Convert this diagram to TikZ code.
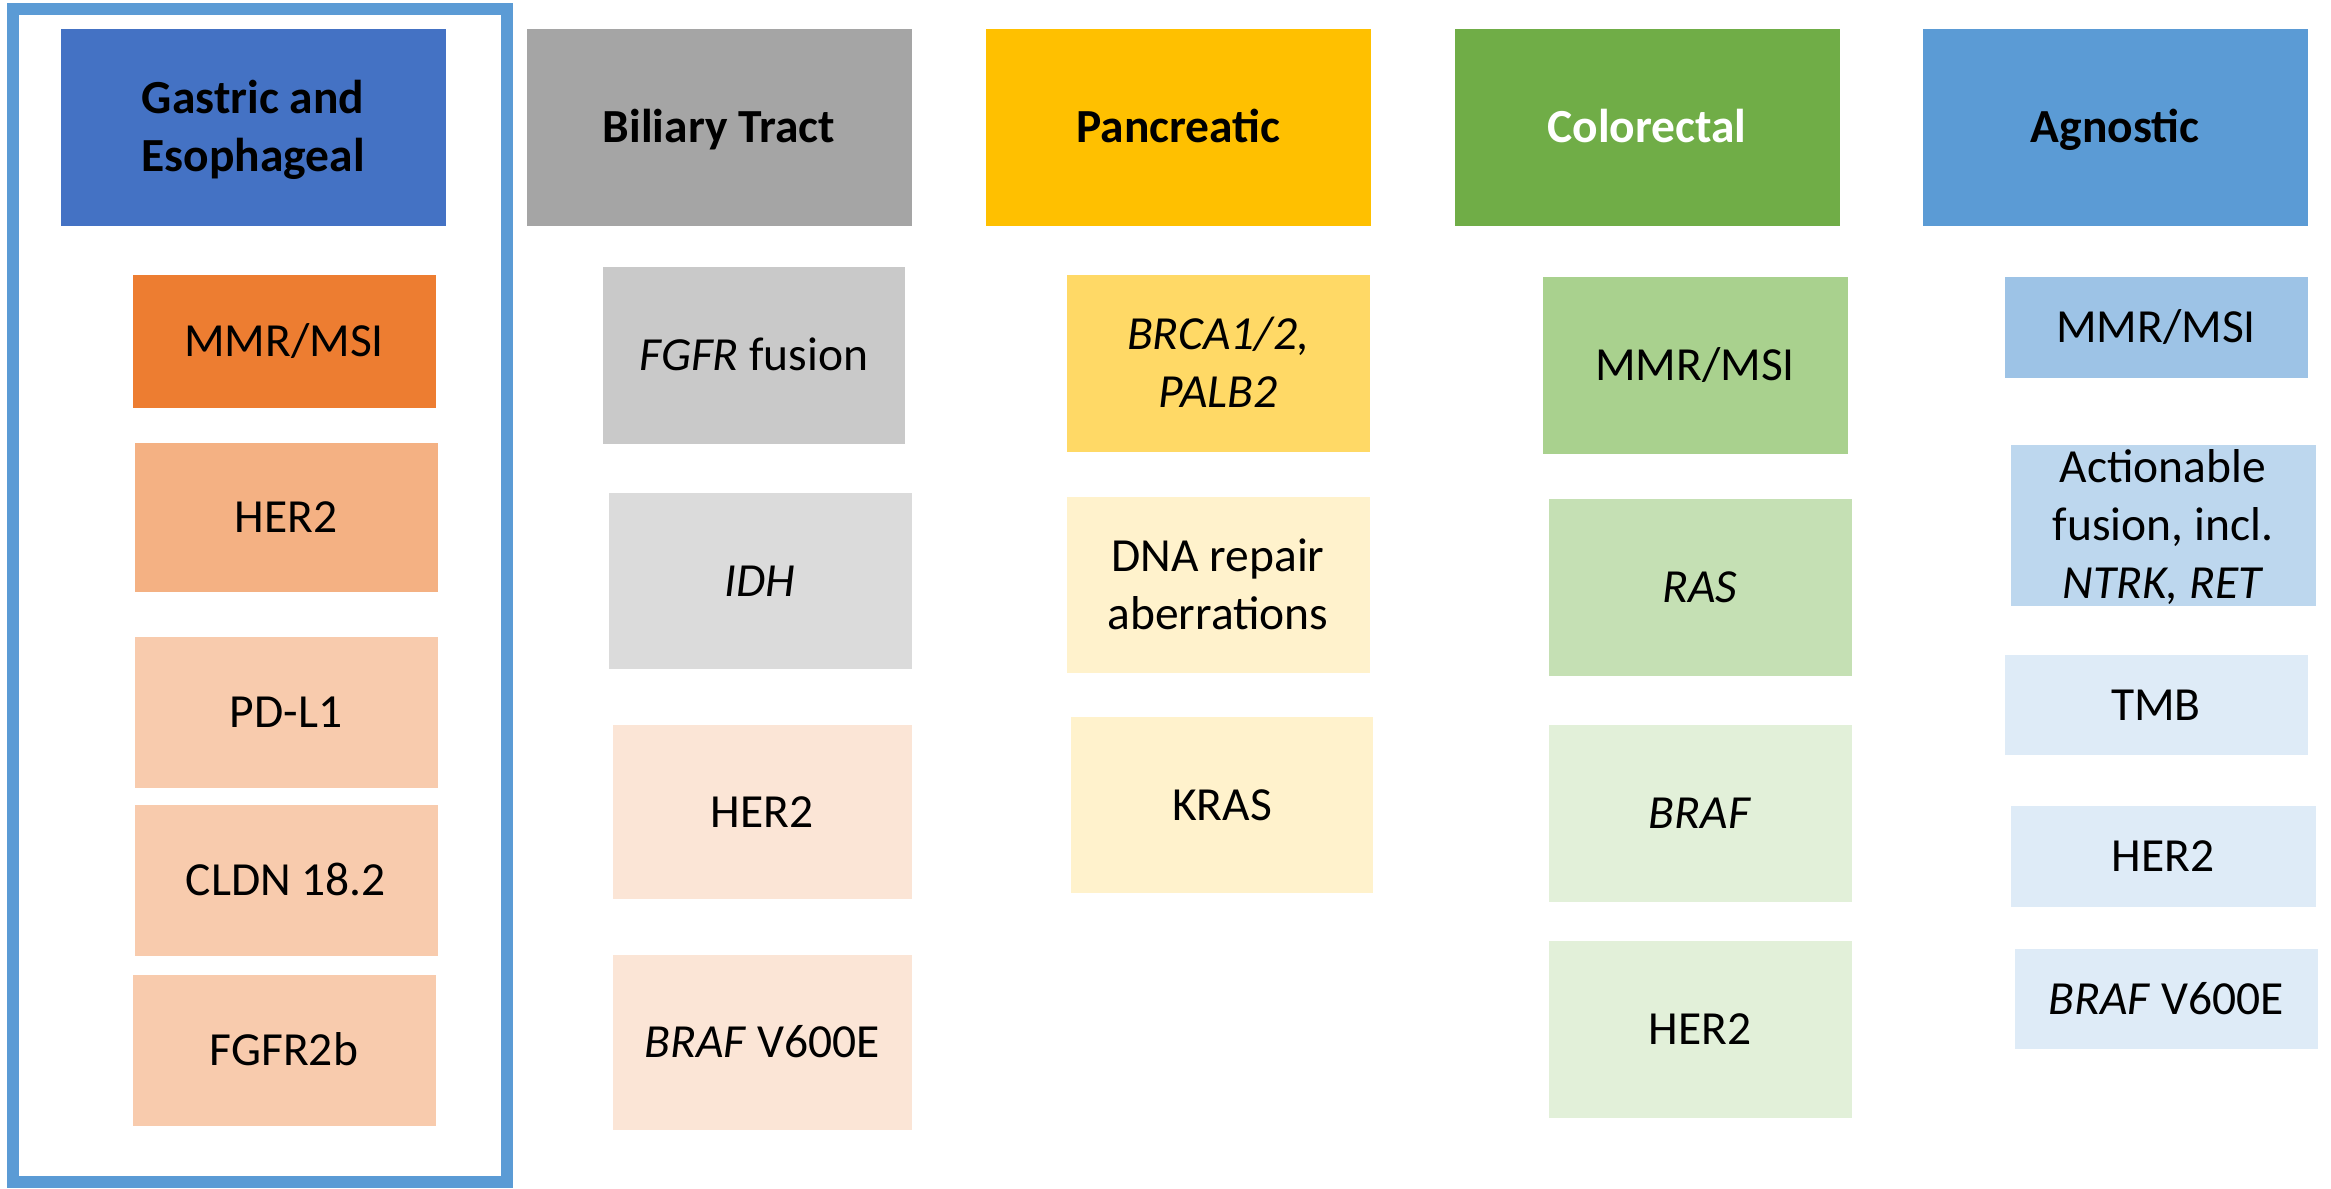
\documentclass[tikz,border=0pt]{standalone}
\usepackage{fontspec}
\setmainfont{Carlito}
\definecolor{frameblue}{HTML}{5B9BD5}
\definecolor{hGas}{HTML}{4472C4}
\definecolor{hBil}{HTML}{A5A5A5}
\definecolor{hPan}{HTML}{FFC000}
\definecolor{hCol}{HTML}{70AD47}
\definecolor{hAgn}{HTML}{5B9BD5}
\definecolor{or1}{HTML}{ED7D31}
\definecolor{or2}{HTML}{F4B183}
\definecolor{or3}{HTML}{F8CBAD}
\definecolor{or4}{HTML}{FBE5D6}
\definecolor{gr1}{HTML}{C9C9C9}
\definecolor{gr2}{HTML}{DBDBDB}
\definecolor{ye1}{HTML}{FFD966}
\definecolor{ye2}{HTML}{FFF2CC}
\definecolor{gn1}{HTML}{A9D18E}
\definecolor{gn2}{HTML}{C5E0B4}
\definecolor{gn3}{HTML}{E2F0D9}
\definecolor{bl1}{HTML}{9DC3E6}
\definecolor{bl2}{HTML}{BDD7EE}
\definecolor{bl3}{HTML}{DEEBF7}
\begin{document}
\begin{tikzpicture}[x=0.5pt,y=-0.5pt,
  cell/.style n args={3}{fill=#1, inner sep=0pt,
    minimum width=#2*0.5pt, minimum height=#3*0.5pt, text width=#2*0.5pt,
    align=flush center, font=\fontsize{23.75}{29}\selectfont,
    text height=15pt, text depth=0pt},
  hdr/.style={font=\fontsize{23.75}{29}\selectfont\bfseries},
  twolines/.style={text depth=29pt},
  threelines/.style={text depth=58pt}]
\useasboundingbox (0,0) rectangle (2331,1189);
\fill[white] (0,0) rectangle (2331,1189);
% frame around gastric column
\draw[frameblue, line width=6pt] (13,9) rectangle (507,1182);

% Gastric and Esophageal
\node[cell={hGas}{385}{197}, hdr, twolines] (hg) at (253,127) {Gastric and\\Esophageal};
\node[cell={or1}{303}{133}] (g1) at (284,341) {MMR/MSI};
\node[cell={or2}{303}{149}] (g2) at (286,517) {HER2};
\node[cell={or3}{303}{151}] (g3) at (286,712) {PD-L1};
\node[cell={or3}{303}{151}] (g4) at (286,880.5) {CLDN 18.2};
\node[cell={or3}{303}{151}] (g5) at (284,1050.5) {FGFR2b};

% Biliary Tract
\node[cell={hBil}{385}{197}, hdr] (hb) at (719,127) {Biliary Tract};
\node[cell={gr1}{302.5}{177}] (b1) at (754,355) {\textit{FGFR} fusion};
\node[cell={gr2}{303}{176.5}] (b2) at (760,581) {\textit{IDH}};
\node[cell={or4}{299}{174.5}] (b3) at (762,812) {HER2};
\node[cell={or4}{299}{175}] (b4) at (762,1042) {\textit{BRAF} V600E};

% Pancreatic
\node[cell={hPan}{385}{197}, hdr] (hp) at (1178.5,127) {Pancreatic};
\node[cell={ye1}{303}{177}, twolines] (p1) at (1218,363) {\textit{BRCA1/2,}\\\textit{PALB2}};
\node[cell={ye2}{303}{176.5}, twolines] (p2) at (1218,585) {DNA repair\\aberrations};
\node[cell={ye2}{302.5}{176.5}] (p3) at (1222,805) {KRAS};

% Colorectal
\node[cell={hCol}{385}{197}, hdr, text=white] (hc) at (1647,127) {Colorectal};
\node[cell={gn1}{305}{177}] (c1) at (1695,365) {MMR/MSI};
\node[cell={gn2}{303}{177}] (c2) at (1700,587) {\textit{RAS}};
\node[cell={gn3}{303}{177}] (c3) at (1700,813) {\textit{BRAF}};
\node[cell={gn3}{303}{177}] (c4) at (1700,1029) {HER2};

% Agnostic
\node[cell={hAgn}{385}{197}, hdr] (ha) at (2115,127) {Agnostic};
\node[cell={bl1}{303}{101}] (a1) at (2156,327) {MMR/MSI};
\node[cell={bl2}{305}{161}, threelines] (a2) at (2163,525) {Actionable\\fusion, incl.\\\textit{NTRK, RET}};
\node[cell={bl3}{303}{100.5}] (a3) at (2156,705) {TMB};
\node[cell={bl3}{305}{101}] (a4) at (2163,856.5) {HER2};
\node[cell={bl3}{303}{100.5}] (a5) at (2166,999) {\textit{BRAF} V600E};
\end{tikzpicture}
\end{document}
